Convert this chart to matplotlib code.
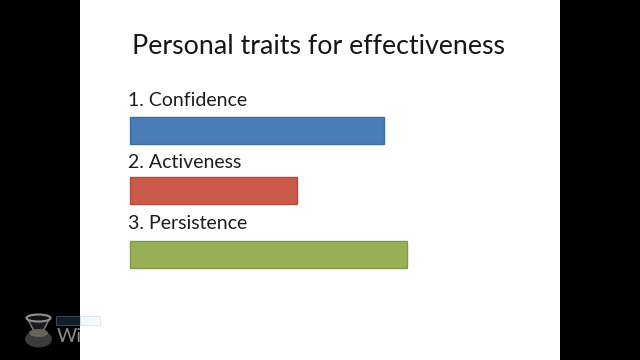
import matplotlib
matplotlib.use('Agg')
import matplotlib.pyplot as plt
from matplotlib.patches import Ellipse, Polygon, Rectangle

title = "Personal traits for effectiveness"
traits = ["1. Confidence", "2. Activeness", "3. Persistence"]
scores = [254, 167, 277]
fill_colors = ["#4a7ebb", "#cb5a4a", "#98b055"]
edge_colors = ["#3f6c9f", "#ad4c3f", "#839849"]

# layout, in pixels of the 640x360 frame
bar_left = 130
bar_height = 27
bar_centers = [130.5, 190.5, 254.5]
label_y = [100, 162, 223.5]

plt.rcParams['font.family'] = ['Lato', 'DejaVu Sans']

fig = plt.figure(figsize=(6.4, 3.6), dpi=100, facecolor='black')
ax = fig.add_axes([0, 0, 1, 1])
ax.set_xlim(0, 640)
ax.set_ylim(360, 0)
ax.axis('off')

# white slide between the black side bands
ax.add_patch(Rectangle((80, 0), 480, 360, facecolor='white', edgecolor='none', zorder=0))

ax.text(319, 46, title, fontsize=19.25, color='#161616', ha='center', va='center')

ax.barh(bar_centers, scores, height=bar_height, left=bar_left,
        color=fill_colors, edgecolor=edge_colors, linewidth=1, zorder=2)

for name, y in zip(traits, label_y):
    ax.text(127.5, y, name, fontsize=14, color='#1c1c1c', ha='left', va='center')

# faint recorder watermark, bottom left
ax.add_patch(Polygon([(27, 318), (50, 318), (43, 331), (34, 331)], closed=True,
                     facecolor='#1c1c1c', edgecolor='#707070', linewidth=1.2, zorder=3))
ax.add_patch(Ellipse((38.5, 318), 24, 7, facecolor='#111111', edgecolor='#8f8f8f', linewidth=1.5, zorder=4))
ax.add_patch(Ellipse((38.5, 339), 27, 17, facecolor='#3c3c3c', edgecolor='none', zorder=3))
ax.add_patch(Ellipse((38.5, 333), 19, 8, facecolor='#6b6258', edgecolor='none', zorder=4))
ax.add_patch(Rectangle((56, 316), 24, 9, facecolor='#101c26', edgecolor='#3c4c58', linewidth=0.7, zorder=3))
ax.add_patch(Rectangle((80, 316), 20, 9, facecolor='#f4fafd', edgecolor='#d6e8f4', linewidth=0.7, zorder=3))
ax.text(57, 337, "Wi", fontsize=14, color='#8c8c8c', ha='left', va='center', zorder=4)

fig.savefig('out.png', dpi=100, facecolor=fig.get_facecolor())
